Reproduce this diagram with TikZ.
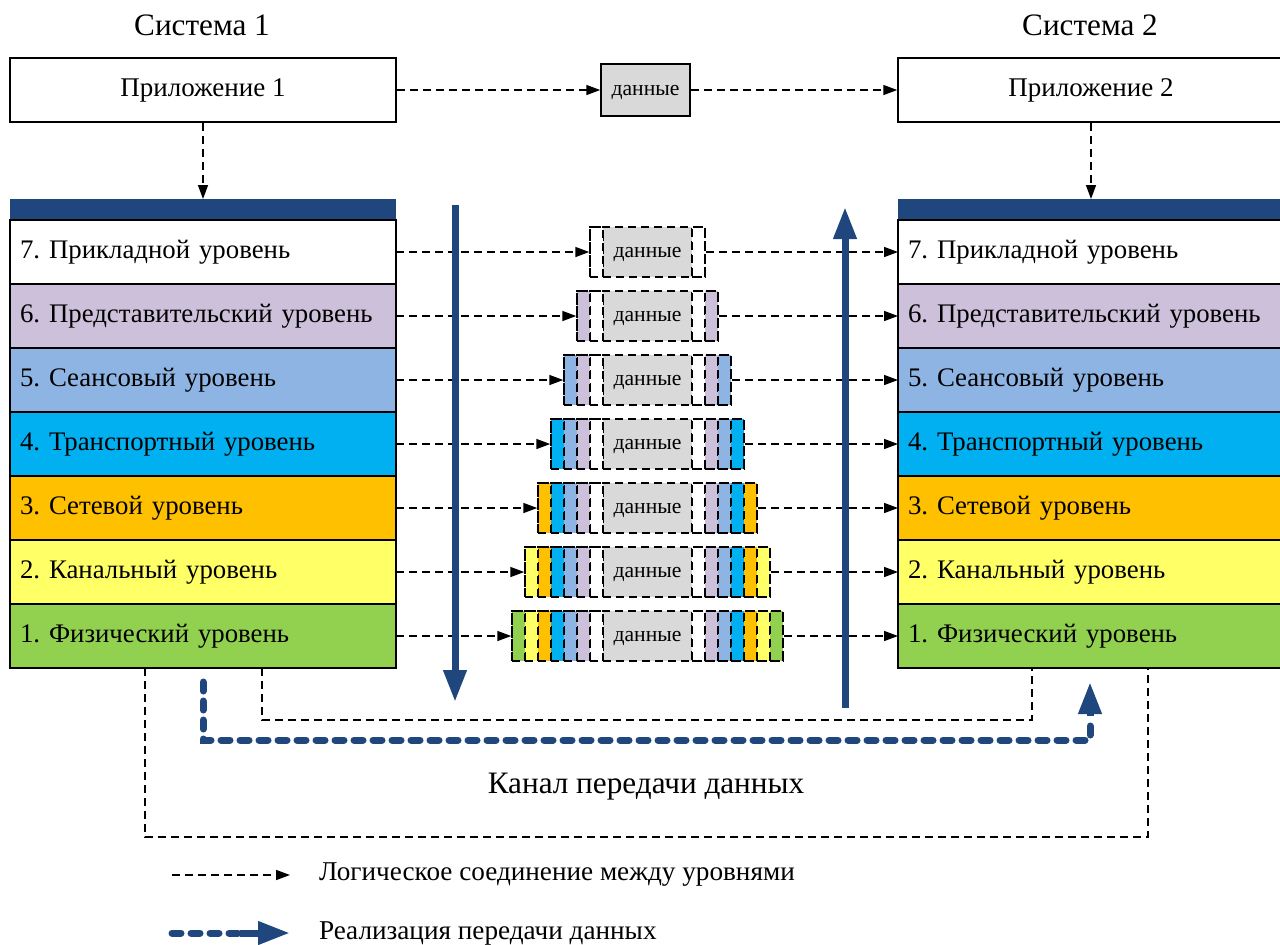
\documentclass[tikz,border=0pt]{standalone}
\usepackage{fontspec}
\setmainfont{Liberation Serif}
\usepackage{xcolor}
\usetikzlibrary{arrows.meta, positioning, calc}
\frenchspacing

\definecolor{osiblue}{HTML}{1F477D}
\definecolor{datagray}{HTML}{D9D9D9}
\definecolor{lay7}{HTML}{FFFFFF}
\definecolor{lay6}{HTML}{CCC0DA}
\definecolor{lay5}{HTML}{8EB4E3}
\definecolor{lay4}{HTML}{00B0F0}
\definecolor{lay3}{HTML}{FFC000}
\definecolor{lay2}{HTML}{FFFF66}
\definecolor{lay1}{HTML}{92D050}

\begin{document}
\begin{tikzpicture}[
    x=0.5pt, y=-0.5pt,
    appbox/.style={draw, line width=0.75pt, minimum width=193pt, minimum height=32pt,
        inner sep=0pt, font=\fontsize{13.5}{15}\selectfont},
    layer/.style={draw, line width=0.75pt, text width=183pt, inner xsep=5pt, inner ysep=0pt,
        outer sep=0pt, minimum height=32pt, align=left, font=\fontsize{13.4}{15}\selectfont},
    topbar/.style={fill=osiblue, minimum width=193pt, minimum height=10.5pt, inner sep=0pt,
        outer sep=0pt},
    field/.style={draw, dashed, line width=0.75pt, dash pattern=on 4pt off 2.5pt,
        minimum width=6.5pt, minimum height=25pt, inner sep=0pt},
    datafld/.style={draw, line width=0.75pt, fill=datagray, minimum width=44.5pt,
        minimum height=25pt, inner sep=0pt, text depth=0pt, font=\fontsize{10.8}{12}\selectfont},
    link/.style={line width=0.75pt, dash pattern=on 4pt off 2.5pt},
    logic/.style={link, -{Triangle[length=7pt, width=5pt]}},
    transfer/.style={draw=osiblue, line width=3.5pt, line cap=round,
        dash pattern=on 4.5pt off 5pt},
    bigarrow/.style={draw=osiblue, line width=3.5pt,
        -{Triangle[length=16pt, width=11pt, fill=osiblue]}},
    title/.style={font=\fontsize{15.6}{18}\selectfont}
]
\useasboundingbox (0,0) rectangle (1280,944);

% systems and applications
\node[title] (sys1) at (202,25) {Система 1};
\node[title] (sys2) at (1090,25) {Система 2};
\node[appbox] (app1) at (203,90) {Приложение 1};
\node[appbox] (app2) at (1091,90) {Приложение 2};
\node[datafld, minimum height=26pt] (data0) at (645.5,90) {данные};
\draw[logic] (app1) -- (data0);
\draw[logic] (data0) -- (app2);

% left stack
\node[topbar] (bar1) at (203,209.5) {};
\node[layer, fill=lay7, below=0pt of bar1] (L7) {7. Прикладной уровень};
\node[layer, fill=lay6, below=0pt of L7] (L6) {6. Представительский уровень};
\node[layer, fill=lay5, below=0pt of L6] (L5) {5. Сеансовый уровень};
\node[layer, fill=lay4, below=0pt of L5] (L4) {4. Транспортный уровень};
\node[layer, fill=lay3, below=0pt of L4] (L3) {3. Сетевой уровень};
\node[layer, fill=lay2, below=0pt of L3] (L2) {2. Канальный уровень};
\node[layer, fill=lay1, below=0pt of L2] (L1) {1. Физический уровень};

% right stack
\node[topbar] (bar2) at (1091,209.5) {};
\node[layer, fill=lay7, below=0pt of bar2] (R7) {7. Прикладной уровень};
\node[layer, fill=lay6, below=0pt of R7] (R6) {6. Представительский уровень};
\node[layer, fill=lay5, below=0pt of R6] (R5) {5. Сеансовый уровень};
\node[layer, fill=lay4, below=0pt of R5] (R4) {4. Транспортный уровень};
\node[layer, fill=lay3, below=0pt of R4] (R3) {3. Сетевой уровень};
\node[layer, fill=lay2, below=0pt of R3] (R2) {2. Канальный уровень};
\node[layer, fill=lay1, below=0pt of R2] (R1) {1. Физический уровень};

\draw[logic] (app1) -- (bar1);
\draw[logic] (app2) -- (bar2);

% packets with headers
\foreach \k in {7,...,1} {
    \pgfmathsetmacro\yy{252+64*(7-\k)}
    \pgfmathtruncatemacro\n{8-\k}
    \pgfmathsetmacro\ww{(89+26*\n)*0.5}
    \node[datafld, dashed, dash pattern=on 4pt off 2.5pt] (data\k) at (647.5,\yy) {данные};
    \foreach \j in {1,...,\n} {
        \pgfmathtruncatemacro\c{8-\j}
        \node[field, fill=lay\c] (hl\k-\j) at (609.5-13*\j,\yy) {};
        \node[field, fill=lay\c] (hr\k-\j) at (685.5+13*\j,\yy) {};
    }
    \node[field, fill=none, minimum width=\ww pt] (pk\k) at (647.5,\yy) {};
    \draw[logic] (L\k) -- (pk\k);
    \draw[logic] (pk\k) -- (R\k);
}

% direction of encapsulation
\coordinate (down1) at (455,205);
\coordinate (down2) at (455,702);
\coordinate (up1) at (845,708);
\coordinate (up2) at (845,207);
\draw[bigarrow] (down1) -- (down2);
\draw[bigarrow] (up1) -- (up2);

% physical channel
\draw[link] ([xshift=67.5pt]L1.south west) -- ++(0,169) -| ([xshift=125pt]R1.south west);
\draw[link] ([xshift=126pt]L1.south west) -- ++(0,52) -| ([xshift=67pt]R1.south west);
\draw[transfer] ([yshift=-7pt]L1.south) -- ++(0,58) -| ([xshift=-0.5pt, yshift=-28pt]R1.south);
\draw[bigarrow, dash pattern=on 20pt off 0pt]
    ([xshift=-0.5pt, yshift=-24pt]R1.south) -- ([xshift=-0.5pt, yshift=-7pt]R1.south);
\node[title] (chan) at (646,787) {Канал передачи данных};

% legend
\node[anchor=west, font=\fontsize{13.6}{15}\selectfont] (leg1) at (312,875)
    {Логическое соединение между уровнями};
\node[anchor=west, font=\fontsize{13.6}{15}\selectfont] (leg2) at (312,933)
    {Реализация передачи данных};
\coordinate (lga) at (172,875);
\coordinate (lgb) at (290,875);
\coordinate (lgc) at (172,933);
\coordinate (lgd) at (240,933);
\coordinate (lge) at (290,933);
\draw[logic] (lga) -- (lgb);
\draw[transfer] (lgc) -- (lgd);
\draw[bigarrow, dash pattern=on 20pt off 0pt] (lgd) -- (lge);
\end{tikzpicture}
\end{document}
